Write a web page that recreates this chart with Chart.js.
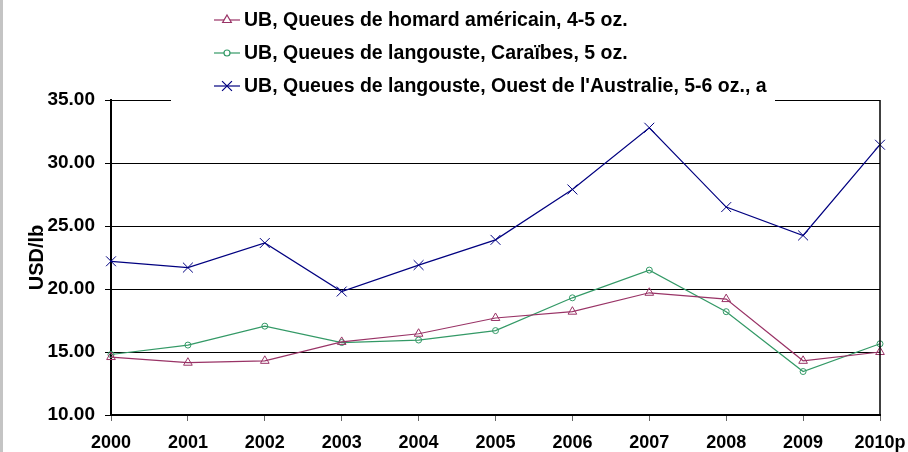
<!DOCTYPE html>
<html>
<head>
<meta charset="utf-8">
<script src="https://cdn.jsdelivr.net/npm/chart.js@4.4.1/dist/chart.umd.min.js"></script>
<style>
  html, body { margin: 0; padding: 0; background: #fff; }
  #wrap { width: 908px; height: 452px; position: relative; }
</style>
</head>
<body>
<div id="wrap"><canvas id="chart" width="908" height="452"></canvas></div>
<script>
// données (USD/lb)
const years = ['2000', '2001', '2002', '2003', '2004', '2005', '2006', '2007', '2008', '2009', '2010p'];
const homard = [14.6, 14.15, 14.3, 15.8, 16.45, 17.7, 18.2, 19.7, 19.2, 14.3, 15.0];
const caraibes = [14.8, 15.55, 17.05, 15.75, 15.95, 16.7, 19.3, 21.5, 18.2, 13.45, 15.65];
const australie = [22.2, 21.7, 23.65, 19.8, 21.9, 23.9, 27.9, 32.8, 26.5, 24.25, 31.45];
const yTicks = [10, 15, 20, 25, 30, 35];

const FONT = 'Liberation Sans, Arial, sans-serif';

// cadre droit, boîte de légende blanche et légende dessinée à la main
const legendBox = {
  id: 'legendBox',
  afterDraw(chart) {
    const ctx = chart.ctx;
    const area = chart.chartArea;
    ctx.save();
    // bande grise à gauche
    ctx.fillStyle = '#c4c4c4';
    ctx.fillRect(0, 0, 3, 452);

    // bord droit
    ctx.strokeStyle = '#000';
    ctx.lineWidth = 1.5;
    ctx.beginPath();
    ctx.moveTo(area.right, area.top);
    ctx.lineTo(area.right, area.bottom);
    ctx.stroke();

    // fond blanc de la légende (cache la ligne du haut)
    ctx.fillStyle = '#fff';
    ctx.fillRect(171, 0, 604, area.top + 4);

    const rows = [20, 53, 86];
    chart.data.datasets.forEach((ds, i) => {
      const y = rows[i];
      ctx.strokeStyle = ds.borderColor;
      ctx.lineWidth = 1.2;
      ctx.beginPath();
      ctx.moveTo(214, y);
      ctx.lineTo(240, y);
      ctx.stroke();
      ctx.fillStyle = '#fff';
      Chart.helpers.drawPoint(ctx, {
        pointStyle: ds.pointStyle,
        radius: ds.pointRadius,
        borderWidth: 1
      }, 227, y);
      ctx.fillStyle = '#000';
      ctx.font = 'bold 19.5px ' + FONT;
      ctx.textBaseline = 'middle';
      ctx.textAlign = 'left';
      ctx.fillText(ds.label, 244, y + 1);
    });
    ctx.restore();
  }
};

function serie(label, data, color, style, radius) {
  return {
    label: label,
    data: data,
    borderColor: color,
    borderWidth: 1.2,
    pointStyle: style,
    pointRadius: radius,
    pointHoverRadius: radius,
    pointBorderColor: color,
    pointBackgroundColor: 'rgba(255,255,255,0)',
    pointBorderWidth: 1,
    tension: 0
  };
}

new Chart(document.getElementById('chart'), {
  type: 'line',
  data: {
    labels: years,
    datasets: [
      serie('UB, Queues de homard américain, 4-5 oz.', homard, '#993366', 'triangle', 5),
      serie('UB, Queues de langouste, Caraïbes, 5 oz.', caraibes, '#339966', 'circle', 3),
      serie("UB, Queues de langouste, Ouest de l'Australie, 5-6 oz., a", australie, '#000080', 'crossRot', 7)
    ]
  },
  options: {
    responsive: false,
    animation: false,
    layout: { padding: { top: 100, right: 28, left: 0, bottom: 0 } },
    plugins: {
      legend: { display: false },
      tooltip: { enabled: false }
    },
    scales: {
      x: {
        offset: false,
        afterFit(scale) {
          scale.height = 37;
          scale.paddingLeft = 0;
          scale.paddingRight = 0;
        },
        grid: { display: true, drawOnChartArea: false, drawTicks: true, tickLength: 6, color: '#666' },
        border: { display: true, color: '#000', width: 2 },
        ticks: {
          color: '#000',
          font: { family: FONT, size: 18, weight: 'bold' },
          padding: 11,
          maxRotation: 0,
          autoSkip: false
        }
      },
      y: {
        min: 10,
        max: 35,
        afterFit(scale) { scale.width = 111; },
        afterBuildTicks(scale) { scale.ticks = yTicks.map(v => ({ value: v })); },
        grid: { color: '#000', lineWidth: 1, tickLength: 6 },
        border: { display: true, color: '#000', width: 2 },
        ticks: {
          color: '#000',
          padding: 10,
          font: { family: FONT, size: 19, weight: 'bold' },
          callback: v => v.toFixed(2)
        },
        title: {
          display: true,
          text: 'USD/lb',
          color: '#000',
          font: { family: FONT, size: 20, weight: 'bold' },
          padding: { top: 25, bottom: 0 }
        }
      }
    }
  },
  plugins: [legendBox]
});
</script>
</body>
</html>
